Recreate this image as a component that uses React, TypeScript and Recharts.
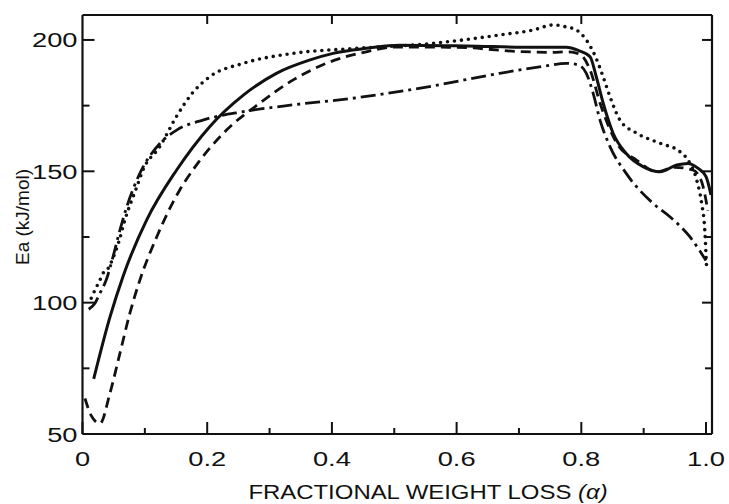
import React from 'react';
import { LineChart, Line, XAxis, YAxis, Label } from 'recharts';

// fractional weight loss (alpha) and activation energy (kJ/mol) per curve
const solidAlpha = [0.018, 0.044, 0.065, 0.103, 0.151, 0.204, 0.258, 0.311, 0.365, 0.402, 0.455, 0.509, 0.616, 0.723, 0.776, 0.795, 0.814, 0.824, 0.835, 0.851, 0.872, 0.899, 0.926, 0.953, 0.971, 0.988, 1.0, 1.008];
const solidEa = [71, 94.5, 110, 131.5, 150.5, 167, 179, 187.3, 192.4, 194.9, 196.8, 198, 197.7, 197.2, 197.2, 196, 193.6, 186, 176, 164.5, 156.8, 151.8, 149.8, 152.4, 153, 151, 148, 141];

const dashedAlpha = [0.004, 0.014, 0.028, 0.044, 0.06, 0.076, 0.092, 0.119, 0.156, 0.177, 0.231, 0.284, 0.338, 0.391, 0.455, 0.5, 0.6, 0.7, 0.75, 0.78, 0.798, 0.815, 0.83, 0.857, 0.889, 0.921, 0.95, 0.979, 0.993, 1.003];
const dashedEa = [63.5, 57, 54, 65.5, 80.7, 96, 108.6, 125, 142.9, 150.5, 165.7, 175.9, 184.8, 191.1, 195.5, 197.3, 197.2, 195.6, 195.3, 195.5, 194.5, 188, 176, 160.7, 154.2, 149.8, 151.5, 150.5, 146, 135];

const dottedAlpha = [0.014, 0.02, 0.028, 0.035, 0.041, 0.049, 0.058, 0.068, 0.087, 0.097, 0.124, 0.151, 0.177, 0.204, 0.258, 0.338, 0.44, 0.562, 0.669, 0.723, 0.755, 0.775, 0.792, 0.808, 0.822, 0.835, 0.846, 0.862, 0.889, 0.926, 0.958, 0.971, 0.985, 0.993, 0.998, 1.001];
const dottedEa = [101.7, 104.8, 108.6, 112, 113, 117, 123, 131.5, 144, 150.5, 159.4, 171, 180, 186, 191.1, 194.9, 196.8, 198.7, 201.9, 203.8, 205.7, 205, 203.8, 200, 194, 186, 178.4, 169.5, 164.5, 160.7, 157.5, 154.3, 146.7, 137.8, 127.7, 113];

const dashDotAlpha = [0.01, 0.02, 0.028, 0.038, 0.049, 0.06, 0.071, 0.092, 0.124, 0.151, 0.193, 0.258, 0.338, 0.44, 0.562, 0.669, 0.74, 0.776, 0.795, 0.808, 0.819, 0.83, 0.846, 0.872, 0.915, 0.942, 0.974, 1.0];
const dashDotEa = [97.5, 99.8, 103.6, 108.6, 117.5, 127.6, 136.5, 149.2, 160.6, 165.7, 169.5, 172.7, 175.3, 178, 182.5, 187.3, 190, 191.1, 190.5, 187.3, 179.7, 169.5, 159.4, 149.2, 137.8, 132.7, 125.1, 116];

const X_TICKS = [0, 0.1, 0.2, 0.3, 0.4, 0.5, 0.6, 0.7, 0.8, 0.9, 1.0];
const X_TICK_LABELS = ['0', '', '0.2', '', '0.4', '', '0.6', '', '0.8', '', '1.0'];
const TOP_TICKS = [0.2, 0.4, 0.6, 0.8];
const Y_TICKS = [50, 75, 100, 125, 150, 175, 200];
const Y_TICK_LABELS = ['50', '', '100', '', '150', '', '200'];

const zip = (a: number[], e: number[]) => a.map((v, i) => ({ a: v, e: e[i] }));

const FONT = '"Liberation Sans", Arial, Helvetica, sans-serif';
const INK = '#111';

const findIdx = (arr: number[], v: number) => arr.findIndex((t) => Math.abs(t - v) < 1e-6);

const BottomTick = ({ x, y, payload }: any) => {
  const label = X_TICK_LABELS[findIdx(X_TICKS, payload.value)] || '';
  const major = label !== '';
  return (
    <g>
      <line x1={x} y1={y} x2={x} y2={y - (major ? 12 : 6)} stroke={INK} strokeWidth={2} />
      {major && (
        <g transform={`translate(${x},${y + 32}) scale(1.3,1)`}>
          <text x={0} y={0} textAnchor="middle" fontSize={21} fontFamily={FONT} fill={INK}>
            {label}
          </text>
        </g>
      )}
    </g>
  );
};

const TopTick = ({ x, y }: any) => (
  <line x1={x} y1={y} x2={x} y2={y + 9} stroke={INK} strokeWidth={2} />
);

const LeftTick = ({ x, y, payload }: any) => {
  const label = Y_TICK_LABELS[findIdx(Y_TICKS, payload.value)] || '';
  const major = label !== '';
  return (
    <g>
      <line x1={x} y1={y} x2={x + (major ? 12 : 7)} y2={y} stroke={INK} strokeWidth={2} />
      {major && (
        <g transform={`translate(${x - 5},${y + 7.5}) scale(1.3,1)`}>
          <text x={0} y={0} textAnchor="end" fontSize={21} fontFamily={FONT} fill={INK}>
            {label}
          </text>
        </g>
      )}
    </g>
  );
};

const RightTick = ({ x, y, payload }: any) => {
  const major = Y_TICK_LABELS[findIdx(Y_TICKS, payload.value)] !== '';
  return <line x1={x} y1={y} x2={x - (major ? 10 : 7)} y2={y} stroke={INK} strokeWidth={2} />;
};

const XTitle = () => (
  <g transform="translate(428,498.5) scale(1.14,1)">
    <text x={0} y={0} textAnchor="middle" fontSize={21} fontFamily={FONT} fill={INK}>
      FRACTIONAL WEIGHT LOSS{' '}
      <tspan fontStyle="italic">(α)</tspan>
    </text>
  </g>
);

const YTitle = () => (
  <g transform="translate(29,217) rotate(-90)">
    <text x={0} y={0} textAnchor="middle" fontSize={19} fontFamily={FONT} fill={INK}>
      Ea (kJ/mol)
    </text>
  </g>
);

const axisLine = { stroke: INK, strokeWidth: 2.2 };

export default function App() {
  return (
    <div style={{ position: 'absolute', left: 0, top: 0, width: 729, height: 504, background: '#fff' }}>
      <LineChart width={729} height={504} margin={{ top: 14, right: 16, bottom: 69, left: 81.5 }}>
        <XAxis
          dataKey="a"
          type="number"
          domain={[0, 1.0096]}
          allowDataOverflow
          ticks={X_TICKS}
          interval={0}
          height={1}
          tickSize={0}
          tickMargin={0}
          tickLine={false}
          axisLine={axisLine}
          tick={BottomTick}
        >
          <Label content={XTitle} />
        </XAxis>
        <XAxis
          xAxisId="top"
          orientation="top"
          dataKey="a"
          type="number"
          domain={[0, 1.0096]}
          allowDataOverflow
          ticks={TOP_TICKS}
          interval={0}
          height={1}
          tickSize={0}
          tickMargin={0}
          tickLine={false}
          axisLine={axisLine}
          tick={TopTick}
        />
        <YAxis
          type="number"
          domain={[50, 209.5]}
          allowDataOverflow
          ticks={Y_TICKS}
          interval={0}
          width={1}
          tickSize={0}
          tickMargin={0}
          tickLine={false}
          axisLine={axisLine}
          tick={LeftTick}
        >
          <Label content={YTitle} />
        </YAxis>
        <YAxis
          yAxisId="right"
          orientation="right"
          type="number"
          domain={[50, 209.5]}
          allowDataOverflow
          ticks={Y_TICKS}
          interval={0}
          width={1}
          tickSize={0}
          tickMargin={0}
          tickLine={false}
          axisLine={axisLine}
          tick={RightTick}
        />
        <Line data={zip(solidAlpha, solidEa)} dataKey="e" type="monotone" stroke={INK} strokeWidth={3} dot={false} isAnimationActive={false} />
        <Line data={zip(dashedAlpha, dashedEa)} dataKey="e" type="monotone" stroke={INK} strokeWidth={2.8} strokeDasharray="10 6" dot={false} isAnimationActive={false} />
        <Line data={zip(dottedAlpha, dottedEa)} dataKey="e" type="monotone" stroke={INK} strokeWidth={3.6} strokeDasharray="0 7" strokeLinecap="round" dot={false} isAnimationActive={false} />
        <Line data={zip(dashDotAlpha, dashDotEa)} dataKey="e" type="monotone" stroke={INK} strokeWidth={2.8} strokeDasharray="15 5 3 5" dot={false} isAnimationActive={false} />
      </LineChart>
    </div>
  );
}
